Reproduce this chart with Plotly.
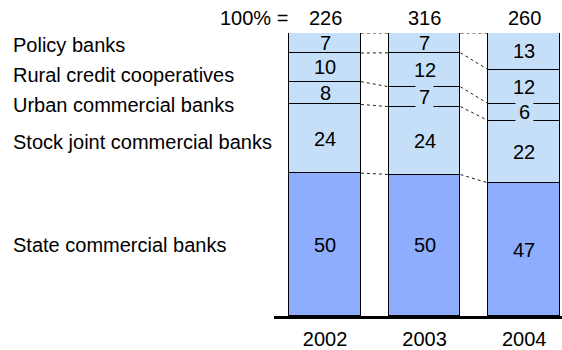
import plotly.graph_objects as go

years = ["2002", "2003", "2004"]
totals = [226, 316, 260]
segments = [
    "State commercial banks",
    "Stock joint commercial banks",
    "Urban commercial banks",
    "Rural credit cooperatives",
    "Policy banks",
]
state = [50, 50, 47]
stock = [24, 24, 22]
urban = [8, 7, 6]
rural = [10, 12, 12]
policy = [7, 7, 13]

series = [state, stock, urban, rural, policy]
colors = ["#8FADFF", "#C6DFF9", "#C6DFF9", "#C6DFF9", "#C6DFF9"]

FONT = "Liberation Sans, Arial, sans-serif"
FS = 20
BAR_W = 0.72
xpos = list(range(len(years)))

fig = go.Figure()
for name, vals, col in zip(segments, series, colors):
    fig.add_trace(go.Bar(
        x=xpos, y=vals, name=name, width=BAR_W,
        marker=dict(color=col, line=dict(color="black", width=1)),
        hoverinfo="skip",
    ))

# cumulative percentage boundaries for each bar
sums = [sum(s[i] for s in series) for i in xpos]
bounds = []
for i in xpos:
    acc = [0.0]
    for s in series:
        acc.append(acc[-1] + s[i] / sums[i] * 100)
    bounds.append(acc)

annotations = []
# value labels inside segments; thin inner segments get a filled label box
for k, s in enumerate(series):
    for i in xpos:
        lo, hi = bounds[i][k], bounds[i][k + 1]
        small = (hi - lo) < 7.5 and k < len(series) - 1
        annotations.append(dict(
            x=i, y=(lo + hi) / 2, xref="x", yref="y", text=str(s[i]),
            showarrow=False, font=dict(family=FONT, size=FS, color="black"),
            bgcolor=colors[k] if small else None, borderpad=3 if small else 0,
        ))

# totals above bars
for i in xpos:
    annotations.append(dict(
        x=i, y=1.053, xref="x", yref="paper", text=str(totals[i]),
        showarrow=False, yanchor="middle",
        font=dict(family=FONT, size=FS, color="black"),
    ))
annotations.append(dict(
    x=0.055, y=1.053, xref="paper", yref="paper", text="100% =",
    showarrow=False, xanchor="right", yanchor="middle",
    font=dict(family=FONT, size=FS, color="black"),
))

# segment names on the left
label_px = {"Policy banks": 45, "Rural credit cooperatives": 75,
            "Urban commercial banks": 105, "Stock joint commercial banks": 142,
            "State commercial banks": 245}
for name in segments:
    py = label_px[name]
    annotations.append(dict(
        x=(11 - 274) / 288, y=(316 - py) / 283, xref="paper", yref="paper",
        text=name, showarrow=False, xanchor="left", yanchor="middle",
        font=dict(family=FONT, size=FS, color="black"),
    ))

# dotted connectors between adjacent bars
shapes = []
for i in xpos[:-1]:
    for k in range(1, len(series) + 1):
        shapes.append(dict(
            type="line", xref="x", yref="y",
            x0=i + BAR_W / 2, x1=i + 1 - BAR_W / 2,
            y0=bounds[i][k], y1=bounds[i + 1][k],
            line=dict(color="#222222", width=1, dash="dot"),
        ))

fig.update_layout(
    width=562, height=350,
    margin=dict(l=274, r=0, t=33, b=34),
    barmode="stack", barnorm="percent", bargap=0,
    showlegend=False,
    plot_bgcolor="white", paper_bgcolor="white",
    xaxis=dict(range=[-0.513, 2.38], tickvals=xpos, ticktext=years,
               showline=True, linecolor="black", linewidth=2.5,
               showgrid=False, zeroline=False, ticks="",
               automargin=False, ticklabelstandoff=3,
               tickfont=dict(family=FONT, size=FS, color="black")),
    yaxis=dict(range=[0, 100], visible=False, automargin=False),
    annotations=annotations,
    shapes=shapes,
)

fig.write_html("out.html")
